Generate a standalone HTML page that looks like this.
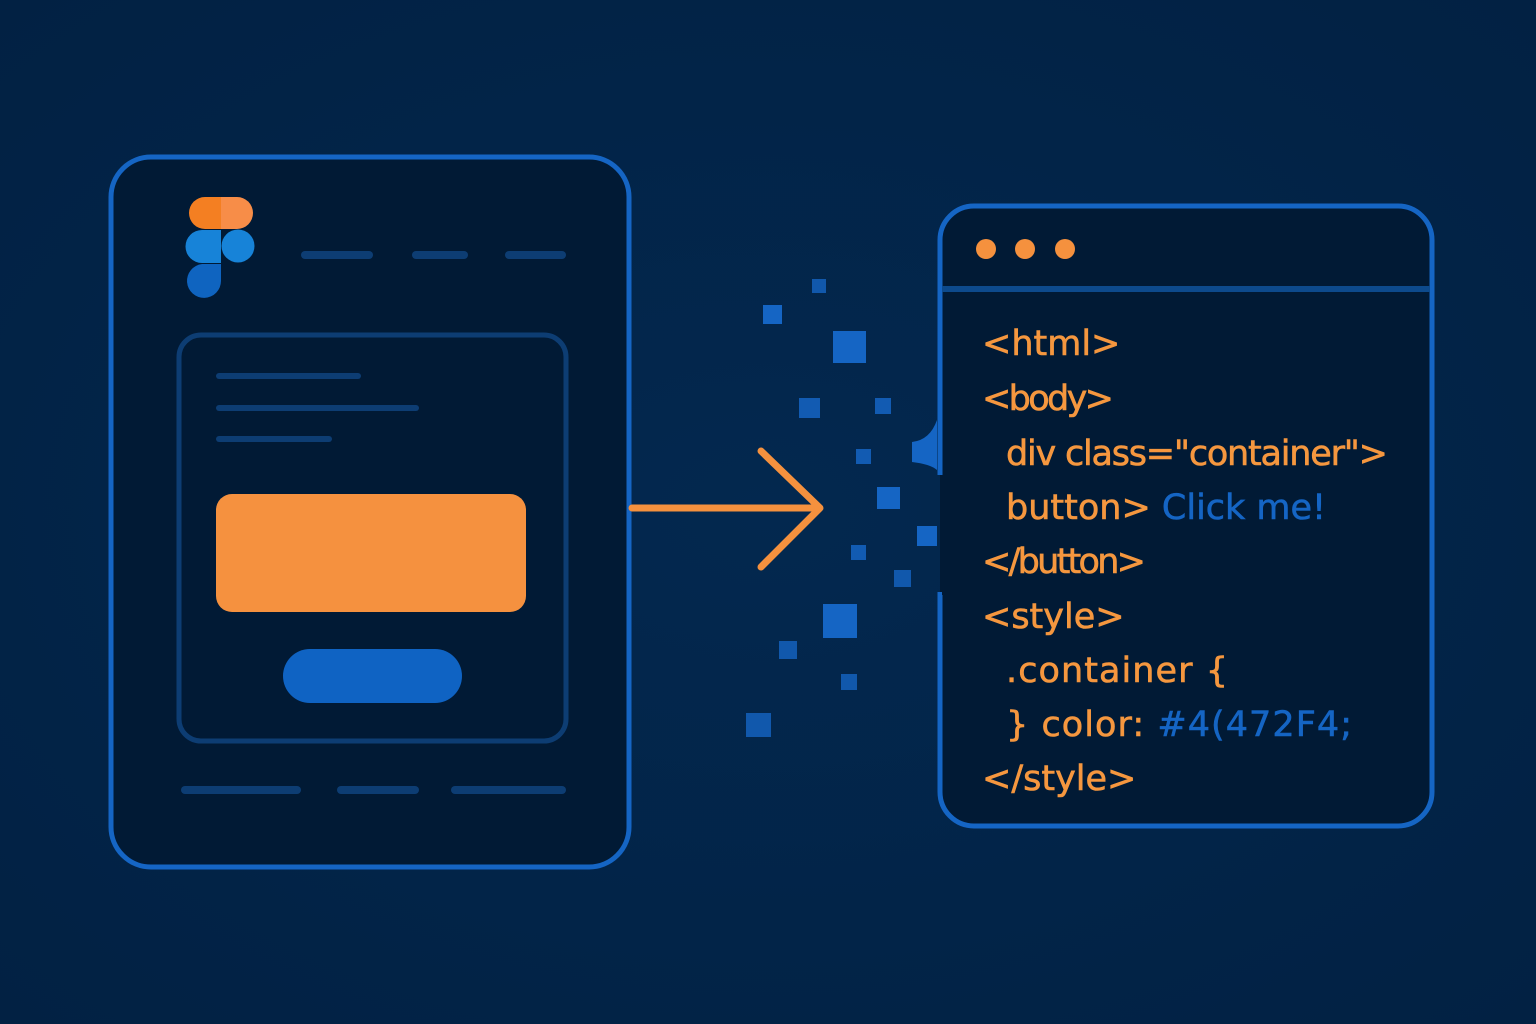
<!DOCTYPE html>
<html><head><meta charset="utf-8"><style>
html,body{margin:0;padding:0;background:#03244a;}
svg{display:block}
text{font-family:"DejaVu Sans","Liberation Sans",sans-serif;font-size:35px;fill:#f5973f;stroke:#f5973f;stroke-width:0.6}
tspan.b{fill:#1565c4;stroke:#1565c4}
</style></head><body>
<svg width="1536" height="1024" viewBox="0 0 1536 1024" xmlns="http://www.w3.org/2000/svg">
<defs>
<radialGradient id="bg" cx="50%" cy="50%" r="70%">
<stop offset="0" stop-color="#03284f"/><stop offset="1" stop-color="#022143"/>
</radialGradient>
</defs>
<rect width="1536" height="1024" fill="url(#bg)"/>
<rect x="111" y="157" width="518" height="710" rx="40" fill="#011a35" stroke="#1565c4" stroke-width="5"/>
<path d="M205 197 H221 V229 H205 A16 16 0 0 1 205 197Z" fill="#f47f22"/>
<path d="M221 197 H237 A16 16 0 0 1 237 229 H221Z" fill="#f78d48"/>
<path d="M202 230 H221 V263 H202 A16.5 16.5 0 0 1 202 230Z" fill="#1783d8"/>
<circle cx="238" cy="246" r="16.5" fill="#1783d8"/>
<path d="M202 264 H221 V281 A17 17 0 1 1 202 264Z" fill="#0f64c0"/>
<g stroke="#0d3d73" stroke-width="8" stroke-linecap="round">
<line x1="305" y1="255" x2="369" y2="255"/><line x1="416" y1="255" x2="464" y2="255"/><line x1="509" y1="255" x2="562" y2="255"/>
<line x1="185" y1="790" x2="297" y2="790"/><line x1="341" y1="790" x2="415" y2="790"/><line x1="455" y1="790" x2="562" y2="790"/>
</g>
<rect x="179" y="335" width="387" height="406" rx="22" fill="none" stroke="#0d3d73" stroke-width="5"/>
<g stroke="#0d3d73" stroke-width="6" stroke-linecap="round">
<line x1="219" y1="376" x2="358" y2="376"/><line x1="219" y1="408" x2="416" y2="408"/><line x1="219" y1="439" x2="329" y2="439"/>
</g>
<rect x="216" y="494" width="310" height="118" rx="16" fill="#f5913f"/>
<rect x="283" y="649" width="179" height="54" rx="27" fill="#0f63c3"/>
<g stroke="#f5913e" stroke-width="7" stroke-linecap="round" fill="none">
<line x1="632" y1="508" x2="818" y2="508"/>
<polyline points="761,451 820,508 761,567" stroke-linejoin="round"/>
</g>
<path d="M940 475 V240 A34 34 0 0 1 974 206 H1398 A34 34 0 0 1 1432 240 V792 A34 34 0 0 1 1398 826 H974 A34 34 0 0 1 940 792 V592" fill="#011a35" stroke="#1565c4" stroke-width="5"/>
<rect x="942" y="475" width="20" height="120" fill="#011a35"/>
<path d="M937 420 Q930 440 912 442 V462 Q930 464 937 470Z" fill="#1565c4"/>
<line x1="942" y1="289" x2="1430" y2="289" stroke="#0d4a8c" stroke-width="6"/>
<circle cx="986" cy="249" r="10" fill="#f5913e"/><circle cx="1025" cy="249" r="10" fill="#f5913e"/><circle cx="1065" cy="249" r="10" fill="#f5913e"/>
<text x="982" y="355">&lt;html&gt;</text>
<text x="982" y="410" textLength="132">&lt;body&gt;</text>
<text x="1006" y="465" textLength="382">div class="container"&gt;</text>
<text x="1006" y="519">button&gt; <tspan class="b">Click me!</tspan></text>
<text x="982" y="573" textLength="164">&lt;/button&gt;</text>
<text x="982" y="628">&lt;style&gt;</text>
<text x="1006" y="682" textLength="222">.container {</text>
<text x="1006" y="736" textLength="346">} color: <tspan class="b">#4(472F4;</tspan></text>
<text x="982" y="790">&lt;/style&gt;</text>
<g fill="#1565c4">
<rect x="812" y="279" width="14" height="14" opacity="0.8"/>
<rect x="763" y="305" width="19" height="19"/>
<rect x="833" y="331" width="33" height="32"/>
<rect x="799" y="398" width="21" height="20" opacity="0.85"/>
<rect x="875" y="398" width="16" height="16" opacity="0.85"/>
<rect x="856" y="449" width="15" height="15" opacity="0.85"/>
<rect x="877" y="487" width="23" height="22"/>
<rect x="917" y="526" width="20" height="20"/>
<rect x="851" y="545" width="15" height="15" opacity="0.85"/>
<rect x="894" y="570" width="17" height="17" opacity="0.8"/>
<rect x="823" y="604" width="34" height="34"/>
<rect x="779" y="641" width="18" height="18" opacity="0.8"/>
<rect x="841" y="674" width="16" height="16" opacity="0.8"/>
<rect x="746" y="713" width="25" height="24" opacity="0.8"/>
</g>
</svg>
</body></html>
